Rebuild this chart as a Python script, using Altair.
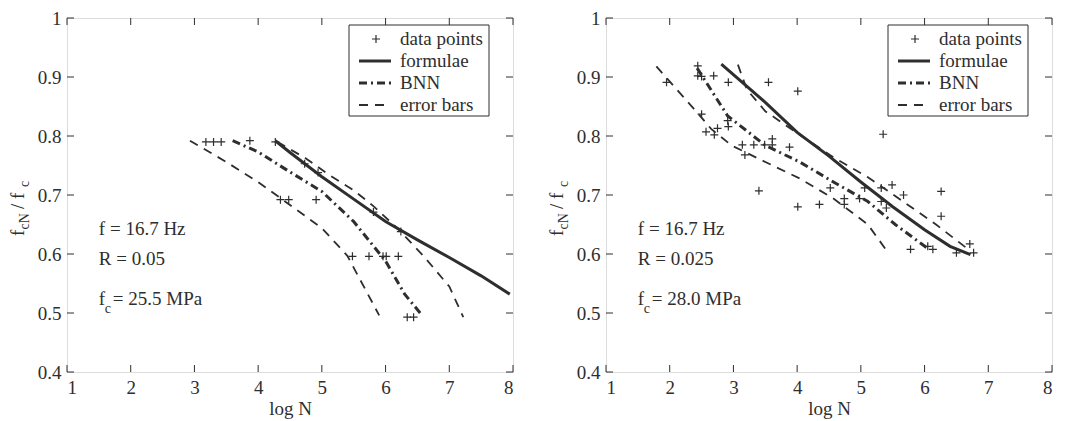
import altair as alt
import pandas as pd

# ---------------- data ----------------
x_ticks = [1, 2, 3, 4, 5, 6, 7, 8]
y_ticks = [0.4, 0.5, 0.6, 0.7, 0.8, 0.9, 1.0]

# left panel: f = 16.7 Hz, R = 0.05, fc = 25.5 MPa
left_pts_x = [3.18, 3.30, 3.42, 3.87, 4.27, 4.35, 4.48, 4.73, 4.91, 4.94,
              5.48, 5.74, 5.81, 5.96, 6.01, 6.20, 6.24, 6.34, 6.44]
left_pts_y = [0.790, 0.790, 0.790, 0.792, 0.790, 0.692, 0.692, 0.753, 0.692, 0.738,
              0.596, 0.596, 0.671, 0.596, 0.596, 0.596, 0.638, 0.493, 0.493]
left_formula_x = [4.27, 4.5, 5.0, 5.5, 6.0, 6.5, 7.0, 7.5, 7.95]
left_formula_y = [0.792, 0.772, 0.731, 0.693, 0.655, 0.624, 0.594, 0.563, 0.532]
left_bnn_x = [3.60, 4.0, 4.5, 5.0, 5.5, 6.0, 6.3, 6.55]
left_bnn_y = [0.792, 0.773, 0.739, 0.706, 0.655, 0.588, 0.532, 0.499]
left_low_x = [2.93, 3.5, 4.0, 4.5, 5.0, 5.4, 5.9]
left_low_y = [0.792, 0.756, 0.722, 0.683, 0.644, 0.597, 0.496]
left_up_x = [4.30, 4.75, 5.1, 5.5, 5.8, 6.2, 6.6, 7.0, 7.22]
left_up_y = [0.790, 0.762, 0.735, 0.708, 0.682, 0.642, 0.596, 0.545, 0.493]

# right panel: f = 16.7 Hz, R = 0.025, fc = 28.0 MPa
right_pts_x = [1.95, 2.44, 2.44, 2.50, 2.69, 2.92, 3.55, 4.01, 2.50, 2.57,
               2.70, 2.75, 2.91, 2.92, 3.14, 3.18, 3.32, 3.49, 3.61, 3.61,
               3.88, 3.40, 4.01, 4.35, 4.52, 4.74, 4.74, 4.98, 5.06, 5.32,
               5.32, 5.35, 5.40, 5.49, 5.67, 5.78, 6.05, 6.13, 6.26, 6.26,
               6.50, 6.71, 6.77]
right_pts_y = [0.891, 0.919, 0.902, 0.901, 0.902, 0.891, 0.891, 0.876, 0.837, 0.807,
               0.802, 0.813, 0.826, 0.816, 0.785, 0.768, 0.785, 0.785, 0.795, 0.785,
               0.781, 0.707, 0.680, 0.684, 0.712, 0.694, 0.684, 0.694, 0.712, 0.712,
               0.689, 0.803, 0.678, 0.717, 0.700, 0.608, 0.613, 0.608, 0.706, 0.664,
               0.602, 0.617, 0.602]
right_formula_x = [2.81, 3.5, 4.0, 4.5, 5.0, 5.5, 6.0, 6.4, 6.72]
right_formula_y = [0.922, 0.857, 0.806, 0.766, 0.722, 0.680, 0.641, 0.613, 0.599]
right_bnn_x = [2.43, 2.91, 3.5, 4.04, 4.57, 5.11, 5.54, 6.08]
right_bnn_y = [0.915, 0.834, 0.784, 0.756, 0.722, 0.689, 0.650, 0.607]
right_low_x = [1.79, 2.43, 2.65, 2.97, 3.5, 4.04, 4.57, 5.11, 5.43]
right_low_y = [0.918, 0.840, 0.812, 0.784, 0.756, 0.728, 0.694, 0.650, 0.602]
right_up_x = [3.07, 3.21, 3.5, 4.0, 4.57, 5.11, 5.65, 6.18, 6.66]
right_up_y = [0.921, 0.879, 0.842, 0.805, 0.764, 0.730, 0.690, 0.650, 0.610]

legend_labels = ["data points", "formulae", "BNN", "error bars"]
left_notes = ["f = 16.7 Hz", "R = 0.05", "= 25.5 MPa"]
right_notes = ["f = 16.7 Hz", "R = 0.025", "= 28.0 MPa"]
note_x = 1.5
note_y = [0.643, 0.592, 0.524]

# ---------------- styling ----------------
FONT = "Liberation Serif, Times New Roman, Times, DejaVu Serif, serif"
INK = "#2e2e2e"
W, H = 446, 354
FS = 19
SUB = 14
PLUS = "M-1,0L1,0M0,-1L0,1"
BNN_DASH = [8, 4, 2, 4]
ERR_DASH = [9, 7]
NB = "\u00a0"

xs = alt.Scale(domain=[1, 8], nice=False, zero=False)
ys = alt.Scale(domain=[0.4, 1.0], nice=False, zero=False)
xax = alt.Axis(values=x_ticks, ticks=False, domain=False, grid=False,
               labelFont=FONT, labelFontSize=FS, labelColor=INK, labelPadding=6,
               title="log N", titleFont=FONT, titleFontSize=FS,
               titleFontWeight="normal", titleColor=INK, titlePadding=2)
yax = alt.Axis(values=y_ticks, ticks=False, domain=False, grid=False,
               labelFont=FONT, labelFontSize=FS, labelColor=INK, labelPadding=6,
               labelExpr="datum.value == 1 ? '1' : format(datum.value, '.1f')",
               title="")
X = alt.X("x:Q", scale=xs, axis=xax)
Y = alt.Y("y:Q", scale=ys, axis=yax)


def one():
    return alt.Chart(pd.DataFrame({"k": [0]}))


def panel(px, py, fx, fy, bx, by, lx, ly, ux, uy, notes):
    pts = alt.Chart(pd.DataFrame({"x": px, "y": py})).mark_point(
        shape=PLUS, filled=False, stroke=INK, strokeWidth=1.2, size=64, opacity=1
    ).encode(x=X, y=Y)

    def line(xv, yv, width, dash=None):
        kw = dict(color=INK, strokeWidth=width)
        if dash:
            kw["strokeDash"] = dash
        return alt.Chart(pd.DataFrame({"x": xv, "y": yv})).mark_line(**kw).encode(x=X, y=Y)

    formula = line(fx, fy, 3)
    bnn = line(bx, by, 3, BNN_DASH)
    low = line(lx, ly, 1.8, ERR_DASH)
    up = line(ux, uy, 1.8, ERR_DASH)

    # inward ticks on all four sides
    xt = pd.DataFrame({"x": x_ticks})
    yt = pd.DataFrame({"y": y_ticks})
    tb = alt.Chart(xt).mark_rule(color=INK, strokeWidth=1).encode(
        x=X, y=alt.value(H), y2=alt.value(H - 7))
    tt = alt.Chart(xt).mark_rule(color=INK, strokeWidth=1).encode(
        x=X, y=alt.value(0), y2=alt.value(7))
    tl = alt.Chart(yt).mark_rule(color=INK, strokeWidth=1).encode(
        y=Y, x=alt.value(0), x2=alt.value(7))
    tr = alt.Chart(yt).mark_rule(color=INK, strokeWidth=1).encode(
        y=Y, x=alt.value(W), x2=alt.value(W - 7))

    # annotations
    txt = dict(align="left", baseline="middle", font=FONT, fontSize=FS, color=INK)
    nd_main = pd.DataFrame({"x": [note_x] * 2, "y": note_y[:2], "label": notes[:2]})
    note_main = alt.Chart(nd_main).mark_text(**txt).encode(x=X, y=Y, text="label:N")
    nd_f = pd.DataFrame({"x": [note_x], "y": [note_y[2]], "label": ["f"]})
    note_f = alt.Chart(nd_f).mark_text(**txt).encode(x=X, y=Y, text="label:N")
    nd_c = pd.DataFrame({"x": [note_x], "y": [note_y[2]], "label": ["c"]})
    note_c = alt.Chart(nd_c).mark_text(
        align="left", baseline="middle", font=FONT, fontSize=SUB, color=INK, dx=6, dy=10
    ).encode(x=X, y=Y, text="label:N")
    nd_fc = pd.DataFrame({"x": [note_x], "y": [note_y[2]], "label": [notes[2]]})
    note_fc = alt.Chart(nd_fc).mark_text(**txt, dx=14).encode(x=X, y=Y, text="label:N")

    # legend (drawn by hand, MATLAB style)
    box = one().mark_rect(fill="white", stroke=INK, strokeWidth=1).encode(
        x=alt.value(282), x2=alt.value(422), y=alt.value(7), y2=alt.value(98))
    lg_plus = one().mark_point(shape=PLUS, filled=False, stroke=INK, strokeWidth=1.2,
                               size=64, opacity=1).encode(x=alt.value(309), y=alt.value(21))
    lg_f = one().mark_rule(color=INK, strokeWidth=3).encode(
        x=alt.value(292), x2=alt.value(324), y=alt.value(43))
    lg_b = one().mark_rule(color=INK, strokeWidth=3, strokeDash=BNN_DASH).encode(
        x=alt.value(292), x2=alt.value(324), y=alt.value(65))
    lg_e = one().mark_rule(color=INK, strokeWidth=1.8, strokeDash=ERR_DASH).encode(
        x=alt.value(292), x2=alt.value(324), y=alt.value(87))
    lg_txt = alt.layer(*[
        one().mark_text(**txt).encode(x=alt.value(333), y=alt.value(yy), text=alt.value(t))
        for t, yy in zip(legend_labels, [21, 43, 65, 87])
    ])

    # y-axis title  f_cN / f_c  (rotated, with subscripts)
    tx = -43
    pieces = [("f", FS, 0, 218), ("cN", SUB, 5, 211.5),
              (NB + "/" + NB + "f", FS, 0, 191), ("c", SUB, 5, 169)]
    ytitle = alt.layer(*[
        one().mark_text(align="left", baseline="alphabetic", angle=270, font=FONT,
                        fontSize=fs, color=INK).encode(
            x=alt.value(tx + off), y=alt.value(yy), text=alt.value(t))
        for t, fs, off, yy in pieces
    ])

    return alt.layer(
        low, up, bnn, formula, pts, tb, tt, tl, tr,
        note_main, note_f, note_c, note_fc,
        box, lg_plus, lg_f, lg_b, lg_e, lg_txt, ytitle
    ).properties(width=W, height=H)


left = panel(left_pts_x, left_pts_y, left_formula_x, left_formula_y, left_bnn_x, left_bnn_y,
             left_low_x, left_low_y, left_up_x, left_up_y, left_notes)
right = panel(right_pts_x, right_pts_y, right_formula_x, right_formula_y, right_bnn_x,
              right_bnn_y, right_low_x, right_low_y, right_up_x, right_up_y, right_notes)

chart = alt.hconcat(left, right, spacing=93, bounds="flush").properties(
    padding={"left": 0, "top": 0, "right": 0, "bottom": 0}
).configure_view(stroke=INK, strokeWidth=1.2).configure(background="white")

chart.save("out.html", embed_options={"renderer": "svg", "actions": False})
